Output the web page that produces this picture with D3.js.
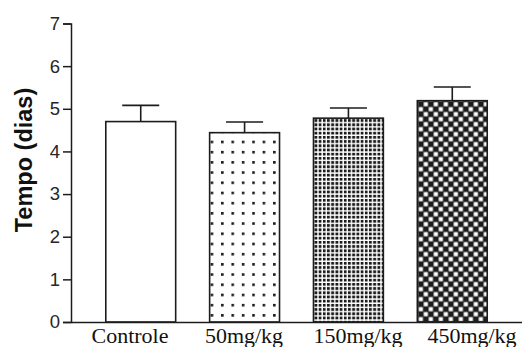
<!DOCTYPE html>
<html>
<head>
<meta charset="utf-8">
<script src="https://cdn.jsdelivr.net/npm/d3@7"></script>
<style>
  html, body { margin: 0; padding: 0; background: #fff; }
  svg { display: block; }
</style>
</head>
<body>
<svg id="chart" width="522" height="347"></svg>
<script>
// Groups, mean time (days) and error (SEM)
const categories = ["Controle", "50mg/kg", "150mg/kg", "450mg/kg"];
const means = [4.70, 4.44, 4.78, 5.19];
const errors = [0.38, 0.25, 0.24, 0.32];
const fills = ["none", "dots", "grid", "checker"];
const yTicks = [0, 1, 2, 3, 4, 5, 6, 7];

const svg = d3.select("#chart");
const ink = "#1c1c1c";
const sans = "'Liberation Sans', Arial, sans-serif";
const serif = "'Liberation Serif', 'Times New Roman', serif";

const x = d3.scaleBand()
  .domain(categories)
  .range([71, 522])
  .paddingInner(0.327)
  .paddingOuter(0.335);

const y = d3.scaleLinear()
  .domain([0, 7])
  .range([322, 23.5]);

// Category labels sit on their own evenly spaced row
const xLabel = d3.scalePoint()
  .domain(categories)
  .range([130, 472]);

// Fill patterns
const defs = svg.append("defs");

const dots = defs.append("pattern")
  .attr("id", "dots").attr("patternUnits", "userSpaceOnUse")
  .attr("width", 10.4).attr("height", 10.2)
  .attr("x", x("50mg/kg") + 1).attr("y", y(means[1]) + 8);
dots.append("rect").attr("width", 10.4).attr("height", 10.2).attr("fill", "#fff");
dots.append("rect").attr("width", 2.6).attr("height", 2.6).attr("fill", ink);

const grid = defs.append("pattern")
  .attr("id", "grid").attr("patternUnits", "userSpaceOnUse")
  .attr("width", 4.2).attr("height", 4.2)
  .attr("x", x("150mg/kg") + 1).attr("y", y(means[2]) + 1);
grid.append("rect").attr("width", 4.2).attr("height", 4.2).attr("fill", "#fff");
grid.append("rect").attr("width", 2.8).attr("height", 2.8).attr("fill", ink);

const checker = defs.append("pattern")
  .attr("id", "checker").attr("patternUnits", "userSpaceOnUse")
  .attr("width", 10).attr("height", 10)
  .attr("x", x("450mg/kg") + 1).attr("y", y(means[3]) + 1);
checker.append("rect").attr("width", 10).attr("height", 10).attr("fill", ink);
checker.append("rect").attr("x", 5.4).attr("y", 0.4).attr("width", 4.2).attr("height", 4.2).attr("fill", "#fff");
checker.append("rect").attr("x", 0.4).attr("y", 5.4).attr("width", 4.2).attr("height", 4.2).attr("fill", "#fff");

const rows = categories.map((c, i) => ({ c, m: means[i], e: errors[i], f: fills[i] }));

// Error bars (drawn under the bars so the stem starts at the bar top)
const eb = svg.append("g").attr("stroke", ink).attr("stroke-width", 1.6);
eb.selectAll("line.stem").data(rows).join("line")
  .attr("x1", d => x(d.c) + x.bandwidth() / 2)
  .attr("x2", d => x(d.c) + x.bandwidth() / 2)
  .attr("y1", d => y(d.m))
  .attr("y2", d => y(d.m + d.e));
eb.selectAll("line.cap").data(rows).join("line")
  .attr("x1", d => x(d.c) + x.bandwidth() / 2 - 18.5)
  .attr("x2", d => x(d.c) + x.bandwidth() / 2 + 18.5)
  .attr("y1", d => y(d.m + d.e))
  .attr("y2", d => y(d.m + d.e));

// Bars
svg.append("g").selectAll("rect").data(rows).join("rect")
  .attr("x", d => x(d.c))
  .attr("y", d => y(d.m))
  .attr("width", x.bandwidth())
  .attr("height", d => y(0) - y(d.m))
  .attr("fill", d => d.f === "none" ? "#fff" : `url(#${d.f})`)
  .attr("stroke", ink)
  .attr("stroke-width", 1.6);

// Y axis
const yAxis = svg.append("g")
  .attr("transform", "translate(71,0)")
  .call(d3.axisLeft(y).tickValues(yTicks).tickSize(8).tickPadding(3).tickFormat(d3.format("d")));
yAxis.select(".domain").attr("stroke", ink).attr("stroke-width", 1.5);
yAxis.selectAll(".tick line").attr("stroke", ink).attr("stroke-width", 1.5);
yAxis.selectAll(".tick text")
  .attr("font-family", sans)
  .attr("font-size", 18.5)
  .attr("fill", "#262626");

// X baseline
const xAxis = svg.append("g")
  .attr("transform", `translate(0,${y(0)})`)
  .call(d3.axisBottom(x).tickSize(0).tickFormat(""));
xAxis.select(".domain").attr("stroke", ink).attr("stroke-width", 1.5);

// Category labels
svg.append("g").selectAll("text").data(categories).join("text")
  .attr("x", d => xLabel(d))
  .attr("y", 343)
  .attr("text-anchor", "middle")
  .attr("font-family", serif)
  .attr("font-size", 22)
  .attr("fill", "#111")
  .text(d => d);

// Y title
svg.append("text")
  .attr("transform", "translate(24,160) rotate(-90)")
  .attr("text-anchor", "middle")
  .attr("dominant-baseline", "central")
  .attr("font-family", sans)
  .attr("font-weight", "bold")
  .attr("font-size", 23.5)
  .attr("fill", "#111")
  .text("Tempo (dias)");
</script>
</body>
</html>
